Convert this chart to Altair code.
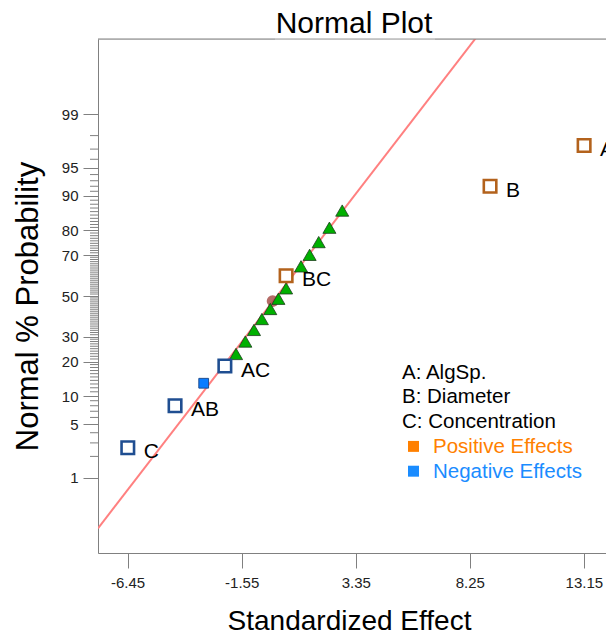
import altair as alt
import pandas as pd
from statistics import NormalDist

# ---------------- data ----------------
lab_names = ["A", "B", "C", "AB", "AC", "BC"]
lab_effect = [13.16, 9.12, -6.44, -4.41, -2.27, 0.36]
lab_pct = [97.3, 92.0, 2.6, 8.0, 18.5, 60.2]
lab_sign = ["Positive", "Positive", "Negative", "Negative", "Negative", "Positive"]

neg_effect = [-3.18]
neg_pct = [13.2]

err_effect = [-1.79, -1.39, -1.02, -0.68, -0.32, 0.03, 0.36, 1.00, 1.37, 1.76, 2.22, 2.77]
err_pct = [22.9, 28.0, 33.2, 38.4, 43.4, 48.6, 53.9, 64.8, 70.1, 75.5, 80.9, 86.3]

center_effect = [-0.22]
center_pct = [47.4]

fit_effect = [-7.72, 14.10]
fit_mean = -0.03
fit_sd = 2.585

major_pct = [1, 5, 10, 20, 30, 50, 70, 80, 90, 95, 99]
minor_pct = [2, 3, 4] + [p for p in range(6, 95) if p not in major_pct] + [96, 97, 98]
x_ticks = [-6.45, -1.55, 3.35, 8.25, 13.15]
x_domain = [-7.72, 14.10]
p_domain = [0.05, 99.95]

title_text = "Normal Plot"
legend_lines = ["A: AlgSp.", "B: Diameter", "C: Concentration"]
legend_effects = ["Positive Effects", "Negative Effects"]

# ---------------- layout ----------------
FONT = "Liberation Sans"
W, H = 508, 514
nd = NormalDist()
z_major = [nd.inv_cdf(p / 100) for p in major_pct]
y_domain = [nd.inv_cdf(p / 100) for p in p_domain]

xs = alt.Scale(domain=x_domain, nice=False, zero=False)
ys = alt.Scale(domain=y_domain, nice=False, zero=False)

x_enc = alt.X(
    "effect:Q",
    scale=xs,
    axis=alt.Axis(
        values=x_ticks,
        labelExpr="(datum.value < 0 ? '-' : '') + format(abs(datum.value), '.2f')",
        tickSize=15,
        labelPadding=7,
        labelFontSize=15,
        labelColor="#222222",
        labelFont=FONT,
        domainColor="#808080",
        tickColor="#808080",
        grid=False,
        title="Standardized Effect",
        titleFont=FONT,
        titleFontSize=28,
        titleFontWeight="normal",
        titleColor="black",
        titleX=251,
        titleY=76,
        titleBaseline="alphabetic",
        titleAlign="center",
    ),
)
y_enc = alt.Y(
    "z:Q",
    scale=ys,
    axis=alt.Axis(
        values=z_major,
        labelExpr="format(cumulativeNormal(datum.value) * 100, '.0f')",
        tickSize=15,
        labelPadding=5,
        labelFontSize=15,
        labelColor="#222222",
        labelFont=FONT,
        domainColor="#808080",
        tickColor="#808080",
        grid=False,
        title="Normal % Probability",
        titleFont=FONT,
        titleFontSize=31,
        titleFontWeight="normal",
        titleColor="black",
        titleAngle=270,
        titleX=-61,
        titleY=267,
        titleAlign="center",
        titleBaseline="alphabetic",
    ),
)

zcalc = "quantileNormal(datum.pct / 100)"

fit_df = pd.DataFrame({"effect": fit_effect})
fit = (
    alt.Chart(fit_df)
    .transform_calculate(z=f"(datum.effect - {fit_mean}) / {fit_sd}")
    .mark_line(color="#ff8080", strokeWidth=2, clip=True)
    .encode(x=x_enc, y=y_enc)
)

minor_df = pd.DataFrame({"pct": minor_pct})
minor = (
    alt.Chart(minor_df)
    .transform_calculate(z=zcalc)
    .mark_rule(color="#808080", strokeWidth=1)
    .encode(x=alt.value(-8), x2=alt.value(0), y=y_enc)
)

one = pd.DataFrame({"k": [0]})
top_border = (
    alt.Chart(one)
    .mark_rule(color="#808080", strokeWidth=1)
    .encode(x=alt.value(0), x2=alt.value(W), y=alt.value(0))
)
title_bg = (
    alt.Chart(one)
    .mark_rule(color="#d8d8d8", strokeWidth=1)
    .encode(x=alt.value(177), x2=alt.value(337), y=alt.value(0))
)
title = (
    alt.Chart(one)
    .mark_text(align="center", baseline="alphabetic", fontSize=30, font=FONT, color="black")
    .encode(x=alt.value(256), y=alt.value(-6.5), text=alt.value(title_text))
)

center_df = pd.DataFrame({"effect": center_effect, "pct": center_pct})
center = (
    alt.Chart(center_df)
    .transform_calculate(z=zcalc)
    .mark_point(shape="circle", filled=True, size=140, color="#a8524c", opacity=0.85)
    .encode(x=x_enc, y=y_enc)
)

err_df = pd.DataFrame({"effect": err_effect, "pct": err_pct})
err = (
    alt.Chart(err_df)
    .transform_calculate(z=zcalc)
    .mark_point(shape="triangle-up", filled=True, size=170, fill="#00b000",
                stroke="#1c3d1c", strokeWidth=0.8, opacity=1)
    .encode(x=x_enc, y=y_enc)
)

neg_df = pd.DataFrame({"effect": neg_effect, "pct": neg_pct})
neg = (
    alt.Chart(neg_df)
    .transform_calculate(z=zcalc)
    .mark_point(shape="square", filled=True, size=95, fill="#0a7cff",
                stroke="#1f4e91", strokeWidth=1, opacity=1)
    .encode(x=x_enc, y=y_enc)
)

lab_df = pd.DataFrame({"name": lab_names, "effect": lab_effect, "pct": lab_pct, "sign": lab_sign})
squares = (
    alt.Chart(lab_df)
    .transform_calculate(z=zcalc)
    .mark_point(shape="square", filled=False, size=156, strokeWidth=2.6, fill="white", opacity=1)
    .encode(
        x=x_enc,
        y=y_enc,
        stroke=alt.Stroke("sign:N",
                          scale=alt.Scale(domain=["Positive", "Negative"], range=["#b3621c", "#1f4e91"]),
                          legend=None),
    )
)
labels = (
    alt.Chart(lab_df)
    .transform_calculate(z=zcalc)
    .mark_text(align="left", baseline="middle", dx=16, dy=4.5, fontSize=21, font=FONT, color="black")
    .encode(x=x_enc, y=y_enc, text="name:N")
)

ann = []
for i, t in enumerate(legend_lines):
    ann.append(
        alt.Chart(one).mark_text(align="left", baseline="alphabetic", fontSize=20.5, font=FONT, color="black")
        .encode(x=alt.value(304), y=alt.value(339.5 + 24.8 * i), text=alt.value(t))
    )
eff_colors = ["#ff8000", "#1a8cff"]
for i, t in enumerate(legend_effects):
    yb = 339.5 + 24.8 * (3 + i)
    ann.append(
        alt.Chart(one).mark_point(shape="square", filled=True, size=120, color=eff_colors[i], opacity=1)
        .encode(x=alt.value(315.5), y=alt.value(yb - 6.5))
    )
    ann.append(
        alt.Chart(one).mark_text(align="left", baseline="alphabetic", fontSize=20.5, font=FONT, color=eff_colors[i])
        .encode(x=alt.value(335), y=alt.value(yb), text=alt.value(t))
    )

chart = (
    alt.layer(fit, minor, top_border, title_bg, title, center, err, neg, squares, labels, *ann)
    .properties(
        width=W,
        height=H,
        autosize=alt.AutoSizeParams(type="none"),
        padding={"left": 98, "top": 39, "right": 0, "bottom": 83},
    )
    .configure_view(strokeWidth=0)
    .configure(background="white")
)

chart.save("out.html", embed_options={"renderer": "svg", "actions": False})
